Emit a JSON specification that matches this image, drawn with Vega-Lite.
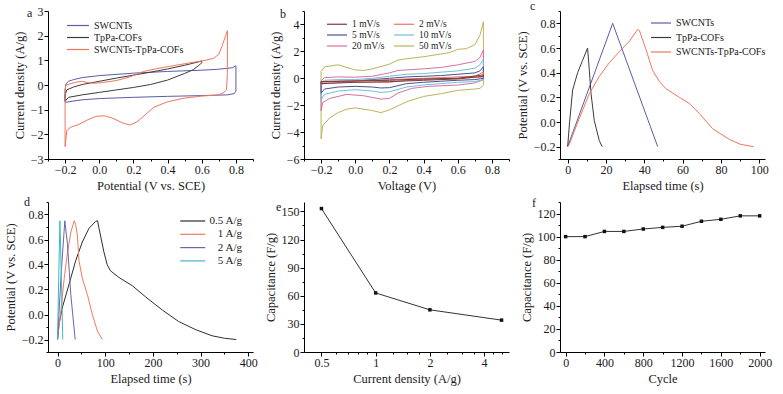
{
"$schema": "https://vega.github.io/schema/vega-lite/v6.json",
"padding": {"left": 4, "top": 0, "right": 4, "bottom": 2},
"background": "white",
"columns": 3,
"spacing": {"row": 4, "column": 6},
"resolve": {"scale": {"color": "independent"}, "legend": {"color": "independent"}},
"config": {
  "font": "Liberation Serif",
  "view": {"stroke": null},
  "axis": {"labelFont": "Liberation Serif", "labelFontSize": 12, "labelColor": "#1a1a1a", "titleFont": "Liberation Serif", "titleFontSize": 12.5, "titleFontWeight": "normal", "titleColor": "#1a1a1a", "domainColor": "#000", "tickColor": "#000", "grid": false, "labelOverlap": false, "labelPadding": 1, "titlePadding": 4},
  "legend": {"labelFont": "Liberation Serif", "labelFontSize": 10, "labelColor": "#1a1a1a", "symbolType": "M-3,0H1", "symbolStrokeWidth": 1.2, "padding": 0, "title": null, "labelOffset": 4},
  "title": {"font": "Liberation Serif", "fontSize": 12, "fontWeight": "normal", "anchor": "start", "frame": "group", "offset": -12, "color": "#1a1a1a", "baseline": "middle"}
},
"datasets": {
  "cvA": [
    {"s":"SWCNTs","i":0,"x":-0.2,"y":-0.7},{"s":"SWCNTs","i":1,"x":-0.2,"y":-0.2},{"s":"SWCNTs","i":2,"x":-0.195,"y":0.05},{"s":"SWCNTs","i":3,"x":-0.18,"y":0.15},{"s":"SWCNTs","i":4,"x":-0.15,"y":0.22},{"s":"SWCNTs","i":5,"x":-0.1,"y":0.3},{"s":"SWCNTs","i":6,"x":0,"y":0.38},{"s":"SWCNTs","i":7,"x":0.2,"y":0.48},{"s":"SWCNTs","i":8,"x":0.4,"y":0.55},{"s":"SWCNTs","i":9,"x":0.6,"y":0.6},{"s":"SWCNTs","i":10,"x":0.7,"y":0.64},{"s":"SWCNTs","i":11,"x":0.78,"y":0.7},{"s":"SWCNTs","i":12,"x":0.8,"y":0.78},{"s":"SWCNTs","i":13,"x":0.8,"y":-0.25},{"s":"SWCNTs","i":14,"x":0.79,"y":-0.35},{"s":"SWCNTs","i":15,"x":0.75,"y":-0.4},{"s":"SWCNTs","i":16,"x":0.6,"y":-0.43},{"s":"SWCNTs","i":17,"x":0.4,"y":-0.46},{"s":"SWCNTs","i":18,"x":0.2,"y":-0.5},{"s":"SWCNTs","i":19,"x":0,"y":-0.55},{"s":"SWCNTs","i":20,"x":-0.1,"y":-0.6},{"s":"SWCNTs","i":21,"x":-0.2,"y":-0.7},
    {"s":"TpPa-COFs","i":0,"x":-0.2,"y":-0.65},{"s":"TpPa-COFs","i":1,"x":-0.2,"y":-0.4},{"s":"TpPa-COFs","i":2,"x":-0.19,"y":-0.2},{"s":"TpPa-COFs","i":3,"x":-0.15,"y":-0.08},{"s":"TpPa-COFs","i":4,"x":-0.1,"y":0.02},{"s":"TpPa-COFs","i":5,"x":0,"y":0.15},{"s":"TpPa-COFs","i":6,"x":0.1,"y":0.28},{"s":"TpPa-COFs","i":7,"x":0.2,"y":0.4},{"s":"TpPa-COFs","i":8,"x":0.3,"y":0.52},{"s":"TpPa-COFs","i":9,"x":0.4,"y":0.65},{"s":"TpPa-COFs","i":10,"x":0.5,"y":0.8},{"s":"TpPa-COFs","i":11,"x":0.6,"y":0.97},{"s":"TpPa-COFs","i":12,"x":0.6,"y":0.9},{"s":"TpPa-COFs","i":13,"x":0.58,"y":0.78},{"s":"TpPa-COFs","i":14,"x":0.55,"y":0.62},{"s":"TpPa-COFs","i":15,"x":0.5,"y":0.47},{"s":"TpPa-COFs","i":16,"x":0.4,"y":0.2},{"s":"TpPa-COFs","i":17,"x":0.3,"y":0.02},{"s":"TpPa-COFs","i":18,"x":0.2,"y":-0.1},{"s":"TpPa-COFs","i":19,"x":0.1,"y":-0.2},{"s":"TpPa-COFs","i":20,"x":0,"y":-0.3},{"s":"TpPa-COFs","i":21,"x":-0.1,"y":-0.4},{"s":"TpPa-COFs","i":22,"x":-0.18,"y":-0.5},{"s":"TpPa-COFs","i":23,"x":-0.2,"y":-0.65},
    {"s":"SWCNTs-TpPa-COFs","i":0,"x":-0.2,"y":-2.5},{"s":"SWCNTs-TpPa-COFs","i":1,"x":-0.2,"y":-1.0},{"s":"SWCNTs-TpPa-COFs","i":2,"x":-0.2,"y":-0.2},{"s":"SWCNTs-TpPa-COFs","i":3,"x":-0.195,"y":0.0},{"s":"SWCNTs-TpPa-COFs","i":4,"x":-0.17,"y":0.05},{"s":"SWCNTs-TpPa-COFs","i":5,"x":-0.13,"y":0.12},{"s":"SWCNTs-TpPa-COFs","i":6,"x":-0.1,"y":0.15},{"s":"SWCNTs-TpPa-COFs","i":7,"x":-0.07,"y":0.1},{"s":"SWCNTs-TpPa-COFs","i":8,"x":-0.03,"y":0.07},{"s":"SWCNTs-TpPa-COFs","i":9,"x":0.02,"y":0.1},{"s":"SWCNTs-TpPa-COFs","i":10,"x":0.1,"y":0.18},{"s":"SWCNTs-TpPa-COFs","i":11,"x":0.18,"y":0.33},{"s":"SWCNTs-TpPa-COFs","i":12,"x":0.26,"y":0.55},{"s":"SWCNTs-TpPa-COFs","i":13,"x":0.35,"y":0.68},{"s":"SWCNTs-TpPa-COFs","i":14,"x":0.45,"y":0.8},{"s":"SWCNTs-TpPa-COFs","i":15,"x":0.55,"y":0.92},{"s":"SWCNTs-TpPa-COFs","i":16,"x":0.62,"y":1.0},{"s":"SWCNTs-TpPa-COFs","i":17,"x":0.67,"y":1.08},{"s":"SWCNTs-TpPa-COFs","i":18,"x":0.7,"y":1.25},{"s":"SWCNTs-TpPa-COFs","i":19,"x":0.72,"y":1.6},{"s":"SWCNTs-TpPa-COFs","i":20,"x":0.74,"y":2.0},{"s":"SWCNTs-TpPa-COFs","i":21,"x":0.75,"y":2.2},{"s":"SWCNTs-TpPa-COFs","i":22,"x":0.75,"y":0.5},{"s":"SWCNTs-TpPa-COFs","i":23,"x":0.745,"y":-0.2},{"s":"SWCNTs-TpPa-COFs","i":24,"x":0.73,"y":-0.3},{"s":"SWCNTs-TpPa-COFs","i":25,"x":0.7,"y":-0.4},{"s":"SWCNTs-TpPa-COFs","i":26,"x":0.6,"y":-0.45},{"s":"SWCNTs-TpPa-COFs","i":27,"x":0.5,"y":-0.53},{"s":"SWCNTs-TpPa-COFs","i":28,"x":0.4,"y":-0.68},{"s":"SWCNTs-TpPa-COFs","i":29,"x":0.32,"y":-0.9},{"s":"SWCNTs-TpPa-COFs","i":30,"x":0.27,"y":-1.2},{"s":"SWCNTs-TpPa-COFs","i":31,"x":0.22,"y":-1.5},{"s":"SWCNTs-TpPa-COFs","i":32,"x":0.18,"y":-1.62},{"s":"SWCNTs-TpPa-COFs","i":33,"x":0.14,"y":-1.55},{"s":"SWCNTs-TpPa-COFs","i":34,"x":0.08,"y":-1.35},{"s":"SWCNTs-TpPa-COFs","i":35,"x":0.03,"y":-1.25},{"s":"SWCNTs-TpPa-COFs","i":36,"x":-0.02,"y":-1.27},{"s":"SWCNTs-TpPa-COFs","i":37,"x":-0.07,"y":-1.42},{"s":"SWCNTs-TpPa-COFs","i":38,"x":-0.12,"y":-1.6},{"s":"SWCNTs-TpPa-COFs","i":39,"x":-0.17,"y":-1.72},{"s":"SWCNTs-TpPa-COFs","i":40,"x":-0.19,"y":-1.85},{"s":"SWCNTs-TpPa-COFs","i":41,"x":-0.2,"y":-2.5}
  ],
  "cvB": [
    {"s":"50 mV/s","i":0,"x":-0.2,"y":-4.5},{"s":"50 mV/s","i":1,"x":-0.2,"y":0.5},{"s":"50 mV/s","i":2,"x":-0.18,"y":0.85},{"s":"50 mV/s","i":3,"x":-0.1,"y":1.0},{"s":"50 mV/s","i":4,"x":0,"y":0.62},{"s":"50 mV/s","i":5,"x":0.05,"y":0.58},{"s":"50 mV/s","i":6,"x":0.1,"y":0.7},{"s":"50 mV/s","i":7,"x":0.2,"y":1.05},{"s":"50 mV/s","i":8,"x":0.25,"y":1.35},{"s":"50 mV/s","i":9,"x":0.3,"y":1.45},{"s":"50 mV/s","i":10,"x":0.4,"y":1.6},{"s":"50 mV/s","i":11,"x":0.5,"y":1.8},{"s":"50 mV/s","i":12,"x":0.55,"y":1.9},{"s":"50 mV/s","i":13,"x":0.6,"y":2.15},{"s":"50 mV/s","i":14,"x":0.65,"y":2.2},{"s":"50 mV/s","i":15,"x":0.7,"y":2.5},{"s":"50 mV/s","i":16,"x":0.73,"y":3.2},{"s":"50 mV/s","i":17,"x":0.75,"y":4.2},
    {"s":"50 mV/s","i":18,"x":0.75,"y":-0.5},{"s":"50 mV/s","i":19,"x":0.73,"y":-0.75},{"s":"50 mV/s","i":20,"x":0.7,"y":-0.8},{"s":"50 mV/s","i":21,"x":0.6,"y":-0.9},{"s":"50 mV/s","i":22,"x":0.5,"y":-1.15},{"s":"50 mV/s","i":23,"x":0.4,"y":-1.35},{"s":"50 mV/s","i":24,"x":0.3,"y":-1.75},{"s":"50 mV/s","i":25,"x":0.2,"y":-2.35},{"s":"50 mV/s","i":26,"x":0.15,"y":-2.55},{"s":"50 mV/s","i":27,"x":0.1,"y":-2.4},{"s":"50 mV/s","i":28,"x":0,"y":-2.2},{"s":"50 mV/s","i":29,"x":-0.05,"y":-2.3},{"s":"50 mV/s","i":30,"x":-0.1,"y":-2.55},{"s":"50 mV/s","i":31,"x":-0.15,"y":-2.95},{"s":"50 mV/s","i":32,"x":-0.19,"y":-3.5},{"s":"50 mV/s","i":33,"x":-0.2,"y":-4.5},
    {"s":"20 mV/s","i":0,"x":-0.2,"y":-2.4},{"s":"20 mV/s","i":1,"x":-0.2,"y":-0.2},{"s":"20 mV/s","i":2,"x":-0.18,"y":0.05},{"s":"20 mV/s","i":3,"x":-0.1,"y":0.1},{"s":"20 mV/s","i":4,"x":0,"y":0.08},{"s":"20 mV/s","i":5,"x":0.1,"y":0.15},{"s":"20 mV/s","i":6,"x":0.2,"y":0.4},{"s":"20 mV/s","i":7,"x":0.25,"y":0.58},{"s":"20 mV/s","i":8,"x":0.3,"y":0.62},{"s":"20 mV/s","i":9,"x":0.4,"y":0.7},{"s":"20 mV/s","i":10,"x":0.5,"y":0.8},{"s":"20 mV/s","i":11,"x":0.6,"y":1.0},{"s":"20 mV/s","i":12,"x":0.7,"y":1.25},{"s":"20 mV/s","i":13,"x":0.73,"y":1.55},{"s":"20 mV/s","i":14,"x":0.75,"y":2.1},
    {"s":"20 mV/s","i":15,"x":0.75,"y":-0.1},{"s":"20 mV/s","i":16,"x":0.7,"y":-0.35},{"s":"20 mV/s","i":17,"x":0.6,"y":-0.5},{"s":"20 mV/s","i":18,"x":0.43,"y":-0.6},{"s":"20 mV/s","i":19,"x":0.33,"y":-0.75},{"s":"20 mV/s","i":20,"x":0.25,"y":-1.1},{"s":"20 mV/s","i":21,"x":0.2,"y":-1.5},{"s":"20 mV/s","i":22,"x":0.15,"y":-1.55},{"s":"20 mV/s","i":23,"x":0.05,"y":-1.3},{"s":"20 mV/s","i":24,"x":-0.05,"y":-1.2},{"s":"20 mV/s","i":25,"x":-0.15,"y":-1.5},{"s":"20 mV/s","i":26,"x":-0.19,"y":-1.8},{"s":"20 mV/s","i":27,"x":-0.2,"y":-2.4},
    {"s":"10 mV/s","i":0,"x":-0.2,"y":-1.6},{"s":"10 mV/s","i":1,"x":-0.2,"y":-0.3},{"s":"10 mV/s","i":2,"x":-0.18,"y":-0.15},{"s":"10 mV/s","i":3,"x":-0.1,"y":-0.1},{"s":"10 mV/s","i":4,"x":0,"y":-0.1},{"s":"10 mV/s","i":5,"x":0.1,"y":0.0},{"s":"10 mV/s","i":6,"x":0.2,"y":0.15},{"s":"10 mV/s","i":7,"x":0.3,"y":0.3},{"s":"10 mV/s","i":8,"x":0.4,"y":0.35},{"s":"10 mV/s","i":9,"x":0.5,"y":0.45},{"s":"10 mV/s","i":10,"x":0.6,"y":0.55},{"s":"10 mV/s","i":11,"x":0.7,"y":0.75},{"s":"10 mV/s","i":12,"x":0.73,"y":1.0},{"s":"10 mV/s","i":13,"x":0.75,"y":1.4},
    {"s":"10 mV/s","i":14,"x":0.75,"y":-0.1},{"s":"10 mV/s","i":15,"x":0.7,"y":-0.25},{"s":"10 mV/s","i":16,"x":0.6,"y":-0.3},{"s":"10 mV/s","i":17,"x":0.5,"y":-0.4},{"s":"10 mV/s","i":18,"x":0.4,"y":-0.5},{"s":"10 mV/s","i":19,"x":0.3,"y":-0.65},{"s":"10 mV/s","i":20,"x":0.2,"y":-1.0},{"s":"10 mV/s","i":21,"x":0.15,"y":-1.05},{"s":"10 mV/s","i":22,"x":0.1,"y":-0.95},{"s":"10 mV/s","i":23,"x":0,"y":-0.85},{"s":"10 mV/s","i":24,"x":-0.1,"y":-0.95},{"s":"10 mV/s","i":25,"x":-0.18,"y":-1.2},{"s":"10 mV/s","i":26,"x":-0.2,"y":-1.6},
    {"s":"5 mV/s","i":0,"x":-0.2,"y":-1.1},{"s":"5 mV/s","i":1,"x":-0.2,"y":-0.3},{"s":"5 mV/s","i":2,"x":-0.18,"y":-0.25},{"s":"5 mV/s","i":3,"x":0,"y":-0.2},{"s":"5 mV/s","i":4,"x":0.1,"y":-0.1},{"s":"5 mV/s","i":5,"x":0.2,"y":0.0},{"s":"5 mV/s","i":6,"x":0.3,"y":0.1},{"s":"5 mV/s","i":7,"x":0.4,"y":0.15},{"s":"5 mV/s","i":8,"x":0.5,"y":0.2},{"s":"5 mV/s","i":9,"x":0.6,"y":0.3},{"s":"5 mV/s","i":10,"x":0.7,"y":0.4},{"s":"5 mV/s","i":11,"x":0.73,"y":0.55},{"s":"5 mV/s","i":12,"x":0.75,"y":0.85},
    {"s":"5 mV/s","i":13,"x":0.75,"y":0.0},{"s":"5 mV/s","i":14,"x":0.7,"y":-0.1},{"s":"5 mV/s","i":15,"x":0.6,"y":-0.15},{"s":"5 mV/s","i":16,"x":0.5,"y":-0.22},{"s":"5 mV/s","i":17,"x":0.4,"y":-0.3},{"s":"5 mV/s","i":18,"x":0.3,"y":-0.4},{"s":"5 mV/s","i":19,"x":0.2,"y":-0.7},{"s":"5 mV/s","i":20,"x":0.15,"y":-0.72},{"s":"5 mV/s","i":21,"x":0.1,"y":-0.65},{"s":"5 mV/s","i":22,"x":0,"y":-0.6},{"s":"5 mV/s","i":23,"x":-0.1,"y":-0.65},{"s":"5 mV/s","i":24,"x":-0.18,"y":-0.8},{"s":"5 mV/s","i":25,"x":-0.2,"y":-1.1},
    {"s":"2 mV/s","i":0,"x":-0.2,"y":-0.5},{"s":"2 mV/s","i":1,"x":-0.2,"y":-0.25},{"s":"2 mV/s","i":2,"x":0,"y":-0.2},{"s":"2 mV/s","i":3,"x":0.2,"y":-0.1},{"s":"2 mV/s","i":4,"x":0.4,"y":0.0},{"s":"2 mV/s","i":5,"x":0.6,"y":0.1},{"s":"2 mV/s","i":6,"x":0.7,"y":0.15},{"s":"2 mV/s","i":7,"x":0.75,"y":0.45},
    {"s":"2 mV/s","i":8,"x":0.75,"y":0.1},{"s":"2 mV/s","i":9,"x":0.6,"y":0.0},{"s":"2 mV/s","i":10,"x":0.4,"y":-0.1},{"s":"2 mV/s","i":11,"x":0.3,"y":-0.15},{"s":"2 mV/s","i":12,"x":0.2,"y":-0.3},{"s":"2 mV/s","i":13,"x":0.1,"y":-0.3},{"s":"2 mV/s","i":14,"x":0,"y":-0.3},{"s":"2 mV/s","i":15,"x":-0.18,"y":-0.35},{"s":"2 mV/s","i":16,"x":-0.2,"y":-0.5},
    {"s":"1 mV/s","i":0,"x":-0.2,"y":-0.4},{"s":"1 mV/s","i":1,"x":-0.2,"y":-0.25},{"s":"1 mV/s","i":2,"x":0,"y":-0.2},{"s":"1 mV/s","i":3,"x":0.2,"y":-0.15},{"s":"1 mV/s","i":4,"x":0.4,"y":-0.05},{"s":"1 mV/s","i":5,"x":0.6,"y":0.0},{"s":"1 mV/s","i":6,"x":0.75,"y":0.25},
    {"s":"1 mV/s","i":7,"x":0.75,"y":0.15},{"s":"1 mV/s","i":8,"x":0.6,"y":-0.05},{"s":"1 mV/s","i":9,"x":0.4,"y":-0.15},{"s":"1 mV/s","i":10,"x":0.2,"y":-0.25},{"s":"1 mV/s","i":11,"x":0,"y":-0.3},{"s":"1 mV/s","i":12,"x":-0.2,"y":-0.4}
  ],
  "gcdC": [
    {"s":"SWCNTs","i":0,"t":0,"v":-0.2},{"s":"SWCNTs","i":1,"t":23.5,"v":0.8},{"s":"SWCNTs","i":2,"t":47,"v":-0.2},
    {"s":"TpPa-COFs","i":0,"t":0,"v":-0.2},{"s":"TpPa-COFs","i":1,"t":1,"v":0.0},{"s":"TpPa-COFs","i":2,"t":2.6,"v":0.26},{"s":"TpPa-COFs","i":3,"t":5.2,"v":0.4},{"s":"TpPa-COFs","i":4,"t":7.8,"v":0.5},{"s":"TpPa-COFs","i":5,"t":10.4,"v":0.6},{"s":"TpPa-COFs","i":6,"t":11.3,"v":0.42},{"s":"TpPa-COFs","i":7,"t":12.2,"v":0.23},{"s":"TpPa-COFs","i":8,"t":13.9,"v":0.01},{"s":"TpPa-COFs","i":9,"t":16.5,"v":-0.15},{"s":"TpPa-COFs","i":10,"t":18,"v":-0.2},
    {"s":"SWCNTs-TpPa-COFs","i":0,"t":0,"v":-0.2},{"s":"SWCNTs-TpPa-COFs","i":1,"t":0.9,"v":-0.18},{"s":"SWCNTs-TpPa-COFs","i":2,"t":4.3,"v":-0.04},{"s":"SWCNTs-TpPa-COFs","i":3,"t":7.8,"v":0.095},{"s":"SWCNTs-TpPa-COFs","i":4,"t":11.3,"v":0.23},{"s":"SWCNTs-TpPa-COFs","i":5,"t":16.5,"v":0.37},{"s":"SWCNTs-TpPa-COFs","i":6,"t":21.7,"v":0.48},{"s":"SWCNTs-TpPa-COFs","i":7,"t":27,"v":0.57},{"s":"SWCNTs-TpPa-COFs","i":8,"t":32.2,"v":0.655},{"s":"SWCNTs-TpPa-COFs","i":9,"t":36.5,"v":0.75},{"s":"SWCNTs-TpPa-COFs","i":10,"t":37.5,"v":0.74},{"s":"SWCNTs-TpPa-COFs","i":11,"t":40.9,"v":0.587},{"s":"SWCNTs-TpPa-COFs","i":12,"t":44.3,"v":0.42},{"s":"SWCNTs-TpPa-COFs","i":13,"t":47.8,"v":0.33},{"s":"SWCNTs-TpPa-COFs","i":14,"t":51.3,"v":0.27},{"s":"SWCNTs-TpPa-COFs","i":15,"t":58.3,"v":0.2},{"s":"SWCNTs-TpPa-COFs","i":16,"t":63.5,"v":0.15},{"s":"SWCNTs-TpPa-COFs","i":17,"t":68.7,"v":0.07},{"s":"SWCNTs-TpPa-COFs","i":18,"t":75.7,"v":-0.055},{"s":"SWCNTs-TpPa-COFs","i":19,"t":84.3,"v":-0.14},{"s":"SWCNTs-TpPa-COFs","i":20,"t":90,"v":-0.18},{"s":"SWCNTs-TpPa-COFs","i":21,"t":97,"v":-0.2}
  ],
  "gcdD": [
    {"s":"0.5 A/g","i":0,"t":0,"v":-0.2},{"s":"0.5 A/g","i":1,"t":3,"v":-0.08},{"s":"0.5 A/g","i":2,"t":10.4,"v":0.06},{"s":"0.5 A/g","i":3,"t":24.3,"v":0.244},{"s":"0.5 A/g","i":4,"t":38,"v":0.43},{"s":"0.5 A/g","i":5,"t":52,"v":0.58},{"s":"0.5 A/g","i":6,"t":66,"v":0.69},{"s":"0.5 A/g","i":7,"t":80,"v":0.745},{"s":"0.5 A/g","i":8,"t":84,"v":0.75},{"s":"0.5 A/g","i":9,"t":87,"v":0.69},{"s":"0.5 A/g","i":10,"t":97,"v":0.505},{"s":"0.5 A/g","i":11,"t":104,"v":0.4},{"s":"0.5 A/g","i":12,"t":111,"v":0.35},{"s":"0.5 A/g","i":13,"t":129,"v":0.296},{"s":"0.5 A/g","i":14,"t":157,"v":0.23},{"s":"0.5 A/g","i":15,"t":185,"v":0.14},{"s":"0.5 A/g","i":16,"t":220,"v":0.035},{"s":"0.5 A/g","i":17,"t":254,"v":-0.056},{"s":"0.5 A/g","i":18,"t":289,"v":-0.12},{"s":"0.5 A/g","i":19,"t":324,"v":-0.17},{"s":"0.5 A/g","i":20,"t":350,"v":-0.19},{"s":"0.5 A/g","i":21,"t":375,"v":-0.2},
    {"s":"1 A/g","i":0,"t":0,"v":-0.2},{"s":"1 A/g","i":1,"t":7,"v":0.03},{"s":"1 A/g","i":2,"t":14,"v":0.29},{"s":"1 A/g","i":3,"t":21,"v":0.5},{"s":"1 A/g","i":4,"t":28,"v":0.66},{"s":"1 A/g","i":5,"t":35,"v":0.75},{"s":"1 A/g","i":6,"t":38,"v":0.72},{"s":"1 A/g","i":7,"t":41.7,"v":0.63},{"s":"1 A/g","i":8,"t":45,"v":0.43},{"s":"1 A/g","i":9,"t":52,"v":0.29},{"s":"1 A/g","i":10,"t":62.6,"v":0.16},{"s":"1 A/g","i":11,"t":73,"v":0.0},{"s":"1 A/g","i":12,"t":83.5,"v":-0.13},{"s":"1 A/g","i":13,"t":94,"v":-0.2},
    {"s":"2 A/g","i":0,"t":0,"v":-0.2},{"s":"2 A/g","i":1,"t":8,"v":0.35},{"s":"2 A/g","i":2,"t":15.3,"v":0.75},{"s":"2 A/g","i":3,"t":20.9,"v":0.56},{"s":"2 A/g","i":4,"t":27.8,"v":0.16},{"s":"2 A/g","i":5,"t":37,"v":-0.2},
    {"s":"5 A/g","i":0,"t":0,"v":-0.2},{"s":"5 A/g","i":1,"t":2.5,"v":0.3},{"s":"5 A/g","i":2,"t":5,"v":0.75},{"s":"5 A/g","i":3,"t":8,"v":0.3},{"s":"5 A/g","i":4,"t":11,"v":-0.2}
  ],
  "capE": [{"j":0.5,"c":153},{"j":1,"c":63},{"j":2,"c":45},{"j":5,"c":34}],
  "cycF": [{"n":0,"c":100},{"n":200,"c":100},{"n":400,"c":104.5},{"n":600,"c":104.5},{"n":800,"c":106.6},{"n":1000,"c":108},{"n":1200,"c":109},{"n":1400,"c":113.3},{"n":1600,"c":115},{"n":1800,"c":118},{"n":2000,"c":118}]
},
"concat": [
  {
    "width": 205, "height": 148,
    "title": {"text": "a", "dx": -21, "dy": 3},
    "data": {"name": "cvA"},
    "mark": {"type": "line", "strokeWidth": 1},
    "encoding": {
      "x": {"field": "x", "type": "quantitative", "scale": {"domain": [-0.3, 0.9], "nice": false, "zero": false},
        "axis": {"title": "Potential (V vs. SCE)", "values": [-0.3,-0.2,-0.1,0,0.1,0.2,0.3,0.4,0.5,0.6,0.7,0.8,0.9], "format": ".1f", "labelExpr": "abs(round(datum.value*10))%2==0 ? datum.label : ''", "tickSize": {"condition": {"test": "abs(round(datum.value*10))%2==0", "value": 4}, "value": 2}}},
      "y": {"field": "y", "type": "quantitative", "scale": {"domain": [-3, 3], "nice": false, "zero": false},
        "axis": {"title": "Current density (A/g)", "values": [-3,-2.5,-2,-1.5,-1,-0.5,0,0.5,1,1.5,2,2.5,3], "format": "d", "labelExpr": "abs(round(datum.value*2))%2==0 ? datum.label : ''", "tickSize": {"condition": {"test": "abs(round(datum.value*2))%2==0", "value": 4}, "value": 2}}},
      "color": {"field": "s", "type": "nominal", "scale": {"domain": ["SWCNTs", "TpPa-COFs", "SWCNTs-TpPa-COFs"], "range": ["#5a5ca8", "#3c3c3c", "#f2765c"]},
        "legend": {"orient": "none", "legendX": 29, "legendY": 8, "symbolSize": 121, "rowPadding": -0.5}},
      "order": {"field": "i"}
    }
  },
  {
    "width": 205, "height": 148,
    "title": {"text": "b", "dx": -24, "dy": 4},
    "data": {"name": "cvB"},
    "mark": {"type": "line", "strokeWidth": 1},
    "encoding": {
      "x": {"field": "x", "type": "quantitative", "scale": {"domain": [-0.3, 0.9], "nice": false, "zero": false},
        "axis": {"title": "Voltage (V)", "values": [-0.3,-0.2,-0.1,0,0.1,0.2,0.3,0.4,0.5,0.6,0.7,0.8,0.9], "format": ".1f", "labelExpr": "abs(round(datum.value*10))%2==0 ? datum.label : ''", "tickSize": {"condition": {"test": "abs(round(datum.value*10))%2==0", "value": 4}, "value": 2}}},
      "y": {"field": "y", "type": "quantitative", "scale": {"domain": [-6, 5], "nice": false, "zero": false},
        "axis": {"title": "Current density (A/g)", "values": [-6,-5,-4,-3,-2,-1,0,1,2,3,4,5], "format": "d", "labelExpr": "abs(datum.value)%2==0 ? datum.label : ''", "tickSize": {"condition": {"test": "abs(datum.value)%2==0", "value": 4}, "value": 2}}},
      "color": {"field": "s", "type": "nominal", "scale": {"domain": ["1 mV/s", "5 mV/s", "20 mV/s", "2 mV/s", "10 mV/s", "50 mV/s"], "range": ["#7a3c3c", "#4b4f90", "#d9709e", "#e8726a", "#6ec0d8", "#bdb35a"]},
        "legend": {"orient": "none", "legendX": 32, "legendY": 7, "columns": 2, "symbolSize": 100, "labelFontSize": 9.5, "columnPadding": 6, "rowPadding": -0.5}},
      "order": {"field": "i"}
    }
  },
  {
    "width": 205, "height": 148,
    "title": {"text": "c", "dx": -30, "dy": -4},
    "data": {"name": "gcdC"},
    "mark": {"type": "line", "strokeWidth": 1},
    "encoding": {
      "x": {"field": "t", "type": "quantitative", "scale": {"domain": [-4, 103], "nice": false, "zero": false},
        "axis": {"title": "Elapsed time (s)", "values": [0,10,20,30,40,50,60,70,80,90,100], "format": "d", "labelExpr": "datum.value%20==0 ? datum.label : ''", "tickSize": {"condition": {"test": "datum.value%20==0", "value": 4}, "value": 2}}},
      "y": {"field": "v", "type": "quantitative", "scale": {"domain": [-0.3, 0.9], "nice": false, "zero": false},
        "axis": {"title": "Potential (V vs. SCE)", "values": [-0.3,-0.2,-0.1,0,0.1,0.2,0.3,0.4,0.5,0.6,0.7,0.8,0.9], "format": ".1f", "labelExpr": "abs(round(datum.value*10))%2==0 ? datum.label : ''", "tickSize": {"condition": {"test": "abs(round(datum.value*10))%2==0", "value": 4}, "value": 2}}},
      "color": {"field": "s", "type": "nominal", "scale": {"domain": ["SWCNTs", "TpPa-COFs", "SWCNTs-TpPa-COFs"], "range": ["#5a5ca8", "#3c3c3c", "#f2765c"]},
        "legend": {"orient": "none", "legendX": 100, "legendY": 6, "symbolSize": 100, "rowPadding": 3.5}},
      "order": {"field": "i"}
    }
  },
  {
    "width": 205, "height": 150,
    "title": {"text": "d", "dx": -24, "dy": 1},
    "data": {"name": "gcdD"},
    "mark": {"type": "line", "strokeWidth": 1},
    "encoding": {
      "x": {"field": "t", "type": "quantitative", "scale": {"domain": [-20, 410], "nice": false, "zero": false},
        "axis": {"title": "Elapsed time (s)", "values": [0,50,100,150,200,250,300,350,400], "format": "d", "labelExpr": "datum.value%100==0 ? datum.label : ''", "tickSize": {"condition": {"test": "datum.value%100==0", "value": 4}, "value": 2}}},
      "y": {"field": "v", "type": "quantitative", "scale": {"domain": [-0.3, 0.9], "nice": false, "zero": false},
        "axis": {"title": "Potential (V vs. SCE)", "values": [-0.3,-0.2,-0.1,0,0.1,0.2,0.3,0.4,0.5,0.6,0.7,0.8,0.9], "format": ".1f", "labelExpr": "abs(round(datum.value*10))%2==0 ? datum.label : ''", "tickSize": {"condition": {"test": "abs(round(datum.value*10))%2==0", "value": 4}, "value": 2}}},
      "color": {"field": "s", "type": "nominal", "scale": {"domain": ["0.5 A/g", "1 A/g", "2 A/g", "5 A/g"], "range": ["#2e2e2e", "#f07a5f", "#6a64b0", "#3fb6c6"]},
        "legend": {"orient": "none", "legendX": 144, "legendY": 12, "symbolSize": 156, "labelAlign": "right", "labelOffset": 36, "labelFontSize": 11, "rowPadding": 1.3}},
      "order": {"field": "i"}
    }
  },
  {
    "width": 205, "height": 150,
    "title": {"text": "e", "dx": -28, "dy": 0},
    "data": {"name": "capE"},
    "mark": {"type": "line", "strokeWidth": 1, "color": "#333", "point": {"filled": true, "shape": "square", "size": 12, "color": "#111"}},
    "encoding": {
      "x": {"field": "j", "type": "quantitative", "scale": {"type": "log", "base": 2, "domain": [0.4, 5.5], "nice": false, "zero": false},
        "axis": {"title": "Current density (A/g)", "values": [0.5, 0.6, 0.7, 0.8, 0.9, 1, 1.25, 1.5, 1.75, 2, 2.5, 3, 3.5, 4, 4.5, 5], "format": "~g", "labelExpr": "indexof([0.5,1,2,4], datum.value) >= 0 ? datum.label : ''", "tickSize": {"condition": {"test": "indexof([0.5,1,2,4], datum.value) >= 0", "value": 4}, "value": 2}}},
      "y": {"field": "c", "type": "quantitative", "scale": {"domain": [0, 160], "nice": false},
        "axis": {"title": "Capacitance (F/g)", "values": [0,15,30,45,60,75,90,105,120,135,150], "format": "d", "labelExpr": "datum.value%30==0 ? datum.label : ''", "tickSize": {"condition": {"test": "datum.value%30==0", "value": 4}, "value": 2}}}
    }
  },
  {
    "width": 205, "height": 150,
    "title": {"text": "f", "dx": -28, "dy": 2},
    "data": {"name": "cycF"},
    "mark": {"type": "line", "strokeWidth": 1, "color": "#333", "point": {"filled": true, "shape": "square", "size": 12, "color": "#111"}},
    "encoding": {
      "x": {"field": "n", "type": "quantitative", "scale": {"domain": [-58, 2055], "nice": false, "zero": false},
        "axis": {"title": "Cycle", "values": [0,200,400,600,800,1000,1200,1400,1600,1800,2000], "format": "d", "labelExpr": "datum.value%400==0 ? datum.label : ''", "tickSize": {"condition": {"test": "datum.value%400==0", "value": 4}, "value": 2}}},
      "y": {"field": "c", "type": "quantitative", "scale": {"domain": [0, 130], "nice": false},
        "axis": {"title": "Capacitance (F/g)", "values": [0,10,20,30,40,50,60,70,80,90,100,110,120,130], "format": "d", "labelExpr": "datum.value%20==0 ? datum.label : ''", "tickSize": {"condition": {"test": "datum.value%20==0", "value": 4}, "value": 2}}}
    }
  }
]
}
